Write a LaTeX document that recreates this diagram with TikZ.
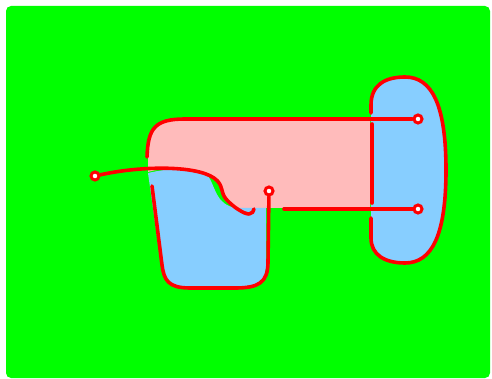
\documentclass[tikz,border=0pt]{standalone}
\usepackage{xcolor}
\definecolor{field}{HTML}{00FF00}
\definecolor{padPink}{HTML}{FFBBBB}
\definecolor{padBlue}{HTML}{87CEFF}
\definecolor{wireRed}{HTML}{FF0000}
\usepackage{tikz}
\usetikzlibrary{positioning}

\begin{document}
\begin{tikzpicture}[
  x=1pt,y=-1pt,
  wire/.style={draw=wireRed,line width=3.6pt,line cap=round,line join=round},
  term/.style={circle,draw=wireRed,line width=3pt,fill=white,inner sep=0pt,minimum size=8pt}
]
\useasboundingbox (0,0) rectangle (492,379);
\fill[field,rounded corners=5pt] (6,6) rectangle (490,378);
% pink pad
\fill[padPink] (148,172) -- (148,150) .. controls (148,125) and (155,119) .. (185,119) -- (370,119) -- (370,208) -- (254,208)
  .. controls (254,211) and (252,214) .. (249,214) .. controls (244,214) and (233,207) .. (226,199)
  .. controls (220,192) and (224,185) .. (214,178) .. controls (195,165) and (160,168) .. (148,172) -- cycle;
% blue pads
\fill[padBlue] (148,173) .. controls (165,169) and (190,166) .. (205,173) .. controls (212,178) and (213,190) .. (220,199)
  .. controls (226,206) and (232,208) .. (240,208) -- (266,208) -- (266,262) .. controls (266,280) and (262,286) .. (240,286)
  -- (185,286) .. controls (167,286) and (163,280) .. (161,265) -- cycle;
\fill[padBlue] (371,105) .. controls (371,85) and (385,77) .. (405,77) .. controls (432,77) and (446,105) .. (446,170)
  .. controls (446,235) and (432,263) .. (405,263) .. controls (385,263) and (371,255) .. (371,238) -- cycle;
% terminals
\node[term] (left) at (95,176) {};
\node[term] (mid) at (269,191) {};
\node[term] (topR) at (418,119) {};
\node[term] (botR) at (418,209) {};
% outlines and wires
\draw[wire] (371,113) -- (371,105) .. controls (371,85) and (385,77) .. (405,77) .. controls (432,77) and (446,105) .. (446,170)
  .. controls (446,235) and (432,263) .. (405,263) .. controls (385,263) and (371,255) .. (371,238) -- (371,218);
\draw[wire] (372,124) -- (372,203);
\draw[wire] (left) .. controls (140,166) and (195,165) .. (214,178) .. controls (224,185) and (220,192) .. (226,199)
  .. controls (233,207) and (244,214) .. (249,214) .. controls (252,214) and (254,211) .. (254,209);
\draw[wire] (mid) -- (268,262) .. controls (268,283) and (258,288) .. (235,288) -- (190,288)
  .. controls (168,288) and (164,280) .. (162,265) -- (152,186);
\draw[wire] (147,157) .. controls (148,128) and (155,119) .. (185,119) -- (topR);
\draw[wire] (botR) -- (284,209);
\end{tikzpicture}
\end{document}
